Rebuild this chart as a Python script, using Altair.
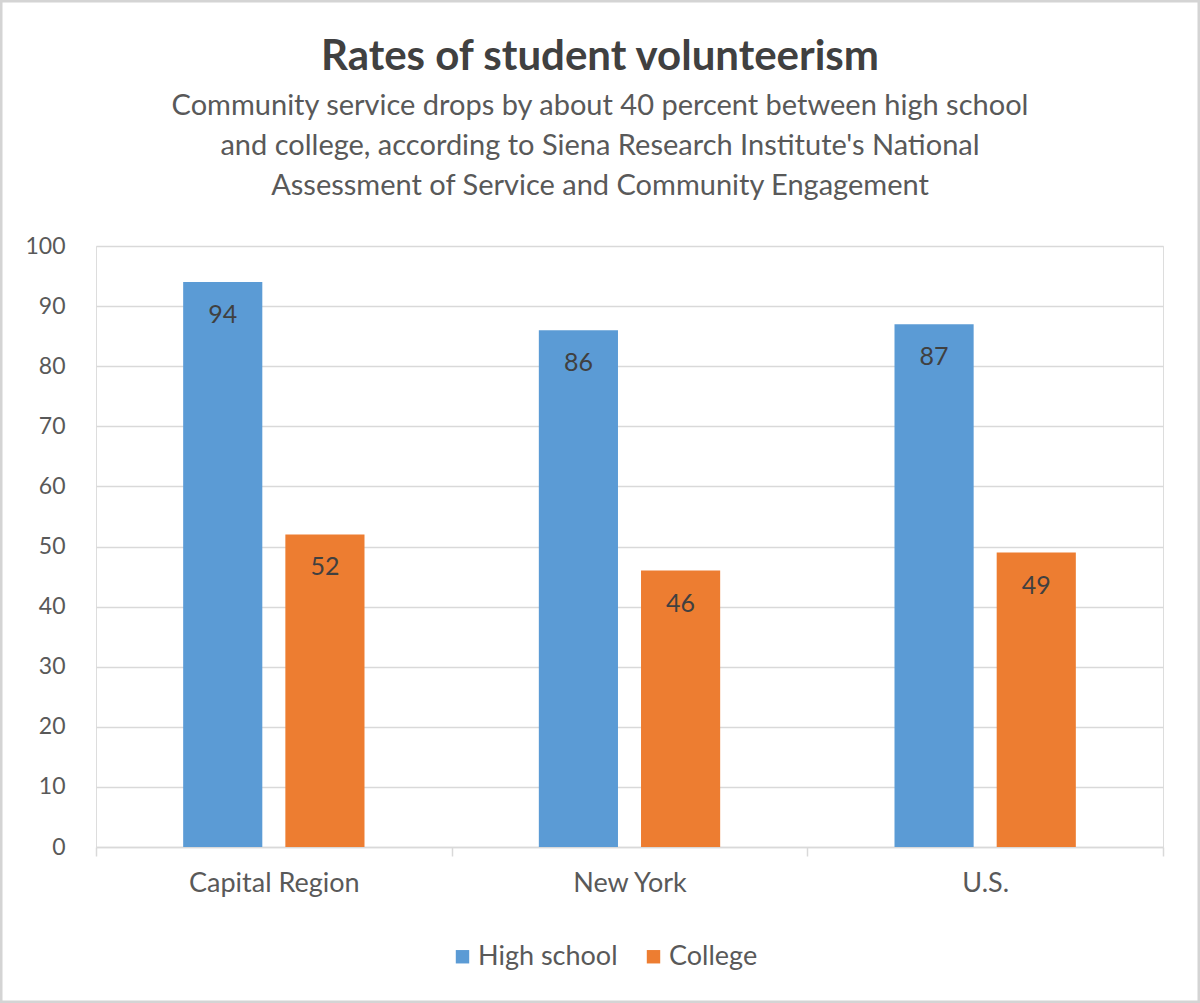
import altair as alt
import pandas as pd

categories = ["Capital Region", "New York", "U.S."]
series = ["High school", "College"]
high_school = [94, 86, 87]
college = [52, 46, 49]
colors = ["#5B9BD5", "#ED7D31"]

title_text = "Rates of student volunteerism"
subtitle_lines = ["Community  service drops by about 40 percent  between  high school",
                  "and college, according to Siena Research Institute's National",
                  "Assessment of Service and Community  Engagement"]

rows = []
for c, h, co in zip(categories, high_school, college):
    rows.append({"region": c, "level": "High school", "value": h})
    rows.append({"region": c, "level": "College", "value": co})
df = pd.DataFrame(rows)

FONT = "Lato"
TXT = "#595959"
W, H = 1067, 601

x = alt.X("region:N", sort=categories, title=None,
          scale=alt.Scale(paddingInner=0, paddingOuter=0),
          axis=alt.Axis(labelAngle=0, labelFontSize=27, labelColor=TXT, labelFont=FONT,
                        domainColor="#D9D9D9", domainWidth=1.5, tickColor="#D9D9D9",
                        tickWidth=1.5, tickSize=9, tickBand="extent", labelPadding=14))
xoff = alt.XOffset("level:N", sort=series,
                   scale=alt.Scale(paddingInner=0.2255, paddingOuter=0.853))
y = alt.Y("value:Q", title=None, scale=alt.Scale(domain=[0, 100], nice=False),
          axis=alt.Axis(values=list(range(0, 101, 10)), domain=False, ticks=False,
                        gridColor="#D9D9D9", gridWidth=1.5, labelFontSize=23,
                        labelColor=TXT, labelFont=FONT, labelPadding=31))
color = alt.Color("level:N", sort=series,
                  scale=alt.Scale(domain=series, range=colors),
                  legend=alt.Legend(title=None, orient="none", direction="horizontal",
                                    legendX=353, legendY=697, symbolType="square",
                                    symbolSize=180, symbolStrokeWidth=0,
                                    labelFontSize=27, labelColor=TXT, labelFont=FONT,
                                    labelOffset=2, columnPadding=22))

base = alt.Chart(df)
bars = base.mark_bar().encode(x=x, xOffset=xoff, y=y, color=color)
labels = base.mark_text(baseline="top", dy=21, fontSize=25, color="#404040", font=FONT).encode(
    x=alt.X("region:N", sort=categories), xOffset=xoff, y="value:Q", text="value:Q")

one = pd.DataFrame({"k": [0]})
frame = alt.Chart(one).mark_rect(
    fill=None, stroke="#D4D4D4", strokeWidth=3).encode(
    x=alt.value(-95), x2=alt.value(W + 36), y=alt.value(-245), y2=alt.value(H + 155))

title_mark = alt.Chart(one).mark_text(
    text=title_text, font=FONT, fontSize=42, fontWeight="bold", color="#404040",
    align="center", baseline="alphabetic").encode(x=alt.value(504), y=alt.value(-176))
sub_marks = [
    alt.Chart(one).mark_text(
        text=line, font=FONT, fontSize=29, color=TXT, align="center",
        baseline="alphabetic").encode(x=alt.value(504), y=alt.value(-131 + 40 * i))
    for i, line in enumerate(subtitle_lines)
]

chart = alt.layer(bars, labels, frame, title_mark, *sub_marks).properties(
    width=W, height=H,
    padding={"left": 96, "top": 246, "right": 37, "bottom": 156},
    autosize=alt.AutoSizeParams(type="none"),
).configure_view(stroke=None).configure(background="white")

chart.save("out.html", embed_options={"renderer": "svg", "actions": False})
